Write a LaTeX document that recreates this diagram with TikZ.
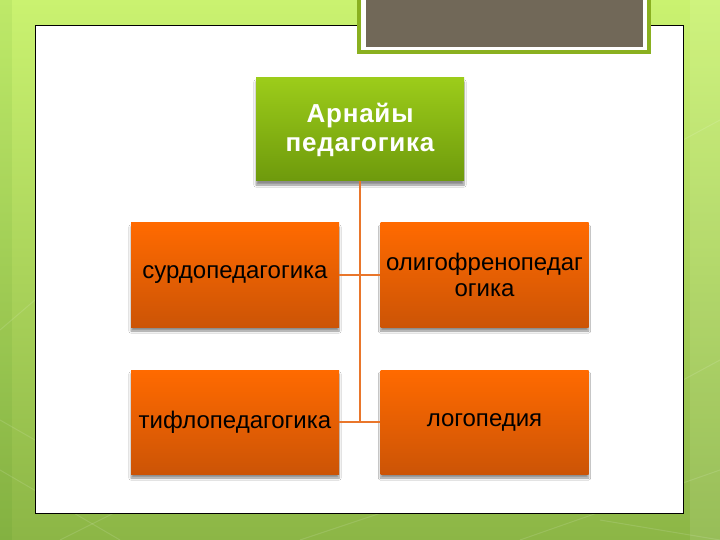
\documentclass[tikz,border=0pt]{standalone}
\usepackage{fontspec}
\setmainfont{Liberation Sans}
\usetikzlibrary{shadows.blur}
\definecolor{bgtop}{RGB}{202,242,112}
\definecolor{bgbot}{RGB}{140,182,70}
\definecolor{greentop}{RGB}{156,204,26}
\definecolor{greenbot}{RGB}{110,154,12}
\definecolor{orangetop}{RGB}{255,106,0}
\definecolor{orangebot}{RGB}{204,84,6}
\definecolor{conn}{RGB}{233,118,43}
\definecolor{tabgray}{RGB}{113,104,88}
\definecolor{tabgreen}{RGB}{138,176,32}
\tikzset{
  boxshadow/.style={blur shadow={shadow xshift=0pt, shadow yshift=-4pt, shadow blur steps=6, shadow opacity=45}},
  topbox/.style={boxshadow, top color=greentop, bottom color=greenbot, draw=none,
    minimum width=208pt, minimum height=103pt, inner sep=0pt, align=center,
    font=\fontsize{26}{30}\selectfont\bfseries, text=white},
  orbox/.style={boxshadow, top color=orangetop, bottom color=orangebot, draw=none,
    minimum width=208pt, minimum height=104pt, inner sep=0pt, align=center,
    font=\fontsize{24}{26}\selectfont, text=black},
  connline/.style={draw=conn, line width=2pt},
  faint/.style={white, opacity=0.12, line width=1pt}
}
\begin{document}
\begin{tikzpicture}[x=1pt,y=-1pt]
\useasboundingbox (0,0) rectangle (720,540);
% background
\shade[top color=bgtop, bottom color=bgbot] (0,0) rectangle (720,540);
\fill[green!40!black, opacity=0.06] (0,0) rectangle (12,540);
\fill[white, opacity=0.10] (690,0) rectangle (720,540);
\draw[faint] (0,470) -- (120,540);
\draw[faint] (60,540) -- (200,470);
\draw[faint] (300,540) -- (420,500);
\draw[faint] (520,540) -- (720,470);
\draw[faint] (600,520) -- (720,540);
\draw[faint] (0,330) -- (35,300);
\draw[faint] (0,420) -- (35,440);
\draw[faint] (683,380) -- (720,360);
\draw[faint] (683,140) -- (720,120);
% panel
\draw[fill=white, draw=black, line width=1pt] (35,26) rectangle (683,513);
% tab
\fill[tabgreen] (357,-5) rectangle (651,54);
\fill[white] (361,-5) rectangle (647,50);
\fill[tabgray] (366,-5) rectangle (643,47);
% nodes
\node[topbox] (top) at (360,129.5) {\addfontfeatures{LetterSpace=3}Арнайы\\[-1pt]\addfontfeatures{LetterSpace=3}педагогика};
\node[orbox] (sur) at (235,275) {сурдопедагогика};
\node[orbox] (oli) at (484.5,275) {олигофренопедаг\\огика};
\node[orbox] (tif) at (235,422) {тифлопедагогика};
\node[orbox] (log) at (484.5,422) {логопедия};
% connectors
\draw[connline] (top.south) -- (top.south |- tif.east);
\draw[connline] (sur.east) -- (oli.west);
\draw[connline] (tif.east) -- (log.west);
\end{tikzpicture}
\end{document}
